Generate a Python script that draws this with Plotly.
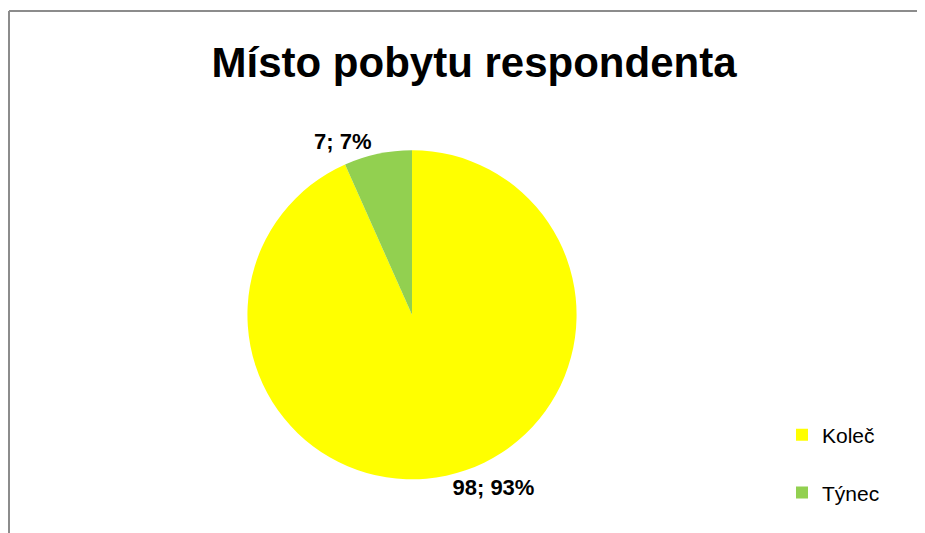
import plotly.graph_objects as go

labels = ["Koleč", "Týnec"]
values = [98, 7]
colors = ["#FFFF00", "#92D050"]
title = "Místo pobytu respondenta"

# extra empty line gives the wider gap between legend entries
legend_labels = [name + "<br> " for name in labels]

W, H = 925, 533
OFF = 8  # page body margin


def px_x(x):
    return (x - OFF) / W


def px_y(y):
    return 1 - (y - OFF) / H


fig = go.Figure(
    go.Pie(
        labels=legend_labels,
        values=values,
        marker=dict(colors=colors, line=dict(width=0)),
        sort=False,
        direction="clockwise",
        rotation=0,
        textposition="outside",
        texttemplate="%{value}; %{percent:.0%}",
        textfont=dict(family="Liberation Sans", size=22, color="black", weight="bold"),
        hovertemplate="%{value}; %{percent:.0%}<extra></extra>",
        domain=dict(x=[px_x(247), px_x(577)], y=[px_y(482), px_y(151)]),
        showlegend=True,
    )
)

fig.update_layout(
    width=W,
    height=H,
    margin=dict(l=0, r=0, t=0, b=0),
    paper_bgcolor="white",
    title=dict(
        text=title,
        x=px_x(474),
        xanchor="center",
        y=px_y(62),
        yanchor="middle",
        font=dict(family="Liberation Sans", size=42, color="black", weight="bold"),
    ),
    legend=dict(
        x=px_x(782),
        y=px_y(417),
        xanchor="left",
        yanchor="top",
        valign="top",
        font=dict(family="Liberation Sans", size=21, color="black"),
        itemwidth=30,
    ),
    shapes=[
        dict(type="line", xref="paper", yref="paper", x0=px_x(9), x1=1, y0=px_y(11), y1=px_y(11),
             line=dict(color="#8c8c8c", width=2)),
        dict(type="line", xref="paper", yref="paper", x0=px_x(9), x1=px_x(9), y0=0, y1=px_y(11),
             line=dict(color="#8c8c8c", width=2)),
    ],
)

fig.write_html("out.html")
